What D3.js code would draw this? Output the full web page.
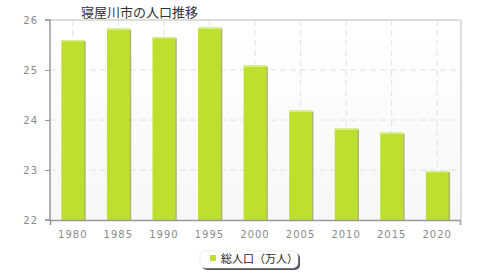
<!DOCTYPE html>
<html><head><meta charset="utf-8">
<script src="https://cdn.jsdelivr.net/npm/d3@7"></script>
<style>body{margin:0;background:#fff;}svg{display:block;font-family:"Noto Sans CJK JP","DejaVu Sans",sans-serif;}</style>
</head><body>
<svg id="c" width="480" height="280"></svg>
<script>
const title = "寝屋川市の人口推移";
const years = ["1980","1985","1990","1995","2000","2005","2010","2015","2020"];
const population = [25.60, 25.83, 25.66, 25.85, 25.09, 24.19, 23.83, 23.75, 22.98];
const yTicks = [22, 23, 24, 25, 26];
const seriesName = "総人口（万人）";

const svg = d3.select("#c");
const L = 50, R = 460, T = 20, B = 220;
const x = d3.scaleBand().domain(years).range([L, R]).paddingInner(0.5).paddingOuter(0.25);
const y = d3.scaleLinear().domain([22, 26]).range([B, T]);

const defs = svg.append("defs");
const g = defs.append("linearGradient").attr("id","bg").attr("x1",0).attr("y1",0).attr("x2",0).attr("y2",1);
g.append("stop").attr("offset","0%").attr("stop-color","#ffffff");
g.append("stop").attr("offset","100%").attr("stop-color","#f7f7f7");

svg.append("rect").attr("x",L).attr("y",T).attr("width",R-L).attr("height",B-T).attr("fill","url(#bg)");

// grid
svg.append("g").selectAll("line").data(yTicks.slice(1,-1)).join("line")
  .attr("x1",L).attr("x2",R).attr("y1",d=>y(d)).attr("y2",d=>y(d))
  .attr("stroke","#e2e2e2").attr("stroke-dasharray","6,4");
svg.append("g").selectAll("line").data(years).join("line")
  .attr("x1",d=>x(d)+x.bandwidth()/2).attr("x2",d=>x(d)+x.bandwidth()/2).attr("y1",T).attr("y2",B)
  .attr("stroke","#e2e2e2").attr("stroke-dasharray","6,4");

// frame top/right
svg.append("line").attr("x1",L).attr("x2",R+1).attr("y1",T).attr("y2",T).attr("stroke","#dddddd").attr("stroke-width",2);
svg.append("line").attr("x1",R+1).attr("x2",R+1).attr("y1",T).attr("y2",B).attr("stroke","#dddddd").attr("stroke-width",2);

// bars
const bars = svg.append("g");
bars.selectAll("rect.sh").data(years).join("rect").attr("class","sh")
  .attr("x",d=>x(d)+1.5).attr("y",(d,i)=>y(population[i])+1)
  .attr("width",x.bandwidth()).attr("height",(d,i)=>B-y(population[i])-1)
  .attr("fill","#9aa35a").attr("opacity",0.8);
bars.selectAll("rect.b").data(years).join("rect").attr("class","b")
  .attr("x",d=>x(d)).attr("y",(d,i)=>y(population[i]))
  .attr("width",x.bandwidth()).attr("height",(d,i)=>B-y(population[i]))
  .attr("fill","#bde02e");
bars.selectAll("rect.hl").data(years).join("rect").attr("class","hl")
  .attr("x",d=>x(d)).attr("y",(d,i)=>y(population[i]))
  .attr("width",x.bandwidth()).attr("height",1.5)
  .attr("fill","#d8ec8a");

// axes
const ya = svg.append("g").attr("transform",`translate(${L},0)`)
  .call(d3.axisLeft(y).tickValues(yTicks).tickSize(5).tickPadding(7).tickFormat(d3.format("d")));
const xa = svg.append("g").attr("transform",`translate(0,${B})`)
  .call(d3.axisBottom(x).tickSize(5).tickPadding(6));
[ya, xa].forEach(a=>{
  a.select(".domain").attr("stroke","#999").attr("stroke-width",1.5);
  a.selectAll(".tick line").attr("stroke","#999");
  a.selectAll("text").attr("fill","#8a8a8a").attr("font-size","10px").attr("letter-spacing","1px")
    .attr("font-family","'DejaVu Sans',sans-serif");
});
xa.selectAll(".tick line").remove();
ya.select(".domain").attr("d",`M-5,${T}H0V${B}H-5`);

// title
svg.append("text").attr("x",81).attr("y",17).text(title)
  .attr("font-size","13px").attr("fill","#333");

// legend
const lg = svg.append("g");
lg.append("rect").attr("x",202).attr("y",253).attr("width",98).attr("height",17).attr("rx",5)
  .attr("fill","#556");
lg.append("rect").attr("x",200).attr("y",251).attr("width",98).attr("height",17).attr("rx",5)
  .attr("fill","#fff").attr("stroke","#ddd").attr("stroke-width",0.5);
lg.append("rect").attr("x",210).attr("y",255).attr("width",6).attr("height",6).attr("fill","#bde02e");
lg.append("text").attr("x",221).attr("y",263).text(seriesName).attr("font-size","11px").attr("fill","#222");
</script>
</body></html>
